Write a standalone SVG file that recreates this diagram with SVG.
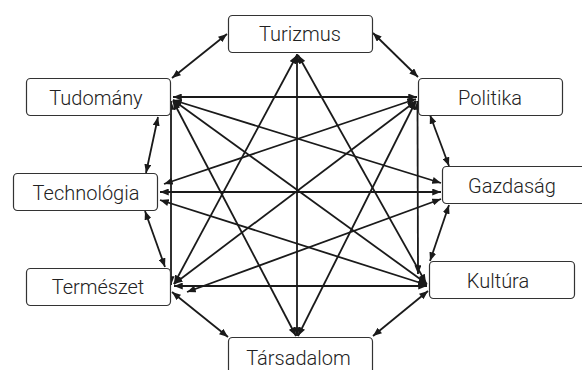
<svg xmlns="http://www.w3.org/2000/svg" width="582" height="370" viewBox="0 0 582 370">
<style>
.box{fill:#fff;stroke:#333;stroke-width:1.2}
.lbl{font-family:Roboto,"Liberation Sans",sans-serif;font-size:20px;font-weight:300;fill:#222;text-anchor:middle}
.c line{stroke:#1a1a1a;stroke-width:1.8;marker-start:url(#a);marker-end:url(#a)}
</style>
<defs>
<marker id="a" viewBox="0 0 10 8" refX="10" refY="4" markerWidth="9" markerHeight="7" markerUnits="userSpaceOnUse" orient="auto-start-reverse">
<path d="M0,0 L10,4 L0,8 z" fill="#1a1a1a"/>
</marker>
</defs>
<g class="c" id="connectors">
<line x1="227" y1="34" x2="172" y2="78"/>
<line x1="373" y1="33" x2="418" y2="77"/>
<line x1="430" y1="115" x2="449" y2="166"/>
<line x1="449" y1="205" x2="430" y2="261"/>
<line x1="428" y1="291" x2="373" y2="336"/>
<line x1="228" y1="337" x2="172" y2="292"/>
<line x1="165" y1="267" x2="145" y2="211"/>
<line x1="146" y1="173" x2="158" y2="117"/>
<line x1="173" y1="97" x2="417" y2="97"/>
<line x1="171" y1="101" x2="171" y2="285"/>
<line x1="417.5" y1="101" x2="418" y2="274"/>
<line x1="174" y1="286" x2="427" y2="286"/>
<line x1="160" y1="192" x2="441" y2="192"/>
<line x1="297" y1="54" x2="297" y2="336"/>
<line x1="297" y1="55" x2="174" y2="284"/>
<line x1="298" y1="55" x2="426" y2="283"/>
<line x1="173" y1="101" x2="296" y2="336"/>
<line x1="416" y1="101" x2="298" y2="336"/>
<line x1="173" y1="100" x2="441" y2="183"/>
<line x1="173" y1="100" x2="427" y2="284"/>
<line x1="164" y1="184" x2="416" y2="99"/>
<line x1="160" y1="200" x2="427" y2="285"/>
<line x1="187" y1="292" x2="441" y2="199"/>
<line x1="174" y1="284" x2="416" y2="101"/>
</g>
<g id="turizmus"><rect class="box" x="228.5" y="15.5" width="144" height="37" rx="4"/><text class="lbl" x="300" y="41">Turizmus</text></g>
<g id="tudomany"><rect class="box" x="26.5" y="78.5" width="144" height="37" rx="4"/><text class="lbl" x="96" y="104.5">Tudomány</text></g>
<g id="politika"><rect class="box" x="418.5" y="78.5" width="144" height="37" rx="4"/><text class="lbl" x="490" y="104.5">Politika</text></g>
<g id="technologia"><rect class="box" x="13.5" y="173.5" width="144" height="37" rx="4"/><text class="lbl" x="86" y="199.5">Technológia</text></g>
<g id="gazdasag"><rect class="box" x="442.5" y="166.5" width="150" height="37" rx="4"/><text class="lbl" x="512" y="193">Gazdaság</text></g>
<g id="kultura"><rect class="box" x="429.5" y="261.5" width="145" height="37" rx="4"/><text class="lbl" x="498" y="287.5">Kultúra</text></g>
<g id="termeszet"><rect class="box" x="26.5" y="268.5" width="144" height="37" rx="4"/><text class="lbl" x="98" y="294">Természet</text></g>
<g id="tarsadalom"><rect class="box" x="228.5" y="337.5" width="144" height="40" rx="4"/><text class="lbl" x="298.5" y="365">Társadalom</text></g>
</svg>
